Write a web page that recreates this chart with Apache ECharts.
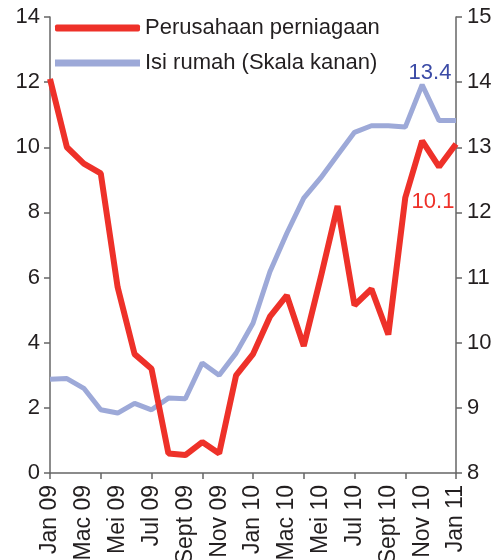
<!DOCTYPE html>
<html>
<head>
<meta charset="utf-8">
<script src="https://cdn.jsdelivr.net/npm/echarts@6/dist/echarts.min.js"></script>
<style>
  html, body { margin: 0; padding: 0; background: #fff; }
  #chart { width: 501px; height: 560px; }
</style>
</head>
<body>
<div id="chart"></div>
<script>
// bulan, Jan 09 - Jan 11
const months = ['Jan 09', 'Feb 09', 'Mac 09', 'Apr 09', 'Mei 09', 'Jun 09', 'Jul 09', 'Ogos 09',
  'Sept 09', 'Okt 09', 'Nov 09', 'Dis 09', 'Jan 10', 'Feb 10', 'Mac 10', 'Apr 10', 'Mei 10',
  'Jun 10', 'Jul 10', 'Ogos 10', 'Sept 10', 'Okt 10', 'Nov 10', 'Dis 10', 'Jan 11']

// kiri
const perniagaan = [12.1, 10.0, 9.5, 9.2, 5.7, 3.65, 3.2, 0.6, 0.55, 0.95, 0.6, 3.0, 3.65,
  4.8, 5.45, 3.9, 6.0, 8.2, 5.15, 5.65, 4.25, 8.45, 10.2, 9.4, 10.1]

// kanan
const isiRumah = [9.44, 9.45, 9.3, 8.97, 8.92, 9.07, 8.97, 9.15, 9.14, 9.69, 9.5, 9.84, 10.3,
  11.09, 11.68, 12.22, 12.53, 12.88, 13.23, 13.33, 13.33, 13.31, 13.96, 13.41, 13.41]

const red = '#EE3129'
const blue = '#9DA9D8'
const txt = '#231F20'
const axisCol = '#666666'
const font = 'Liberation Sans, Arial, sans-serif'
const none = 'rgba(0,0,0,0)'

function withLastLabel(arr, color, offset) {
  return arr.map(function (v, i) {
    if (i !== arr.length - 1) return v
    return {
      value: v,
      label: {
        show: true, position: 'inside', offset: offset, color: color,
        fontSize: 22, fontFamily: font, formatter: function (p) { return p.value.toFixed(1) }
      }
    }
  })
}

const chart = echarts.init(document.getElementById('chart'))
chart.setOption({
  animation: false,
  textStyle: { fontFamily: font },
  grid: { left: 50, right: 45, top: 17, bottom: 87, outerBoundsMode: 'none', containLabel: false },
  legend: {
    orient: 'vertical', left: 55, top: 17, padding: 0, itemWidth: 85, itemHeight: 7, itemGap: 13,
    textStyle: { fontSize: 22, color: txt, fontFamily: font },
    data: [
      { name: 'Perusahaan perniagaan', icon: 'roundRect', itemStyle: { color: red, opacity: 1 } },
      { name: 'Isi rumah (Skala kanan)', icon: 'rect', itemStyle: { color: blue, opacity: 1 } }
    ]
  },
  xAxis: {
    type: 'category', data: months, boundaryGap: false,
    axisLine: { lineStyle: { color: axisCol, width: 1.5 } },
    axisTick: { interval: 2, length: 6, lineStyle: { color: axisCol, width: 1.5 } },
    axisLabel: { interval: 1, rotate: 90, fontSize: 23, color: txt, margin: 12 }
  },
  yAxis: [
    {
      type: 'value', min: 0, max: 14, interval: 2, splitLine: { show: false },
      axisLine: { show: true, lineStyle: { color: axisCol, width: 1.5 } },
      axisTick: { show: true, length: 6, lineStyle: { color: axisCol, width: 1.5 } },
      axisLabel: { fontSize: 22, color: txt, margin: 10 }
    },
    {
      type: 'value', min: 8, max: 15, interval: 1, splitLine: { show: false },
      axisLine: { show: true, lineStyle: { color: axisCol, width: 1.5 } },
      axisTick: { show: true, length: 6, lineStyle: { color: axisCol, width: 1.5 } },
      axisLabel: { fontSize: 22, color: txt, margin: 11 }
    }
  ],
  series: [
    {
      name: 'Isi rumah (Skala kanan)', type: 'line', yAxisIndex: 1,
      symbol: 'circle', symbolSize: 1, showSymbol: true,
      data: withLastLabel(isiRumah, '#3B4BA6', [-26, -48]),
      lineStyle: { color: blue, width: 5 }, itemStyle: { color: none }, z: 2
    },
    {
      name: 'Perusahaan perniagaan', type: 'line', yAxisIndex: 0,
      symbol: 'circle', symbolSize: 1, showSymbol: true,
      data: withLastLabel(perniagaan, red, [-23, 58]),
      lineStyle: { color: red, width: 6 }, itemStyle: { color: none }, z: 3
    }
  ]
})
</script>
</body>
</html>
